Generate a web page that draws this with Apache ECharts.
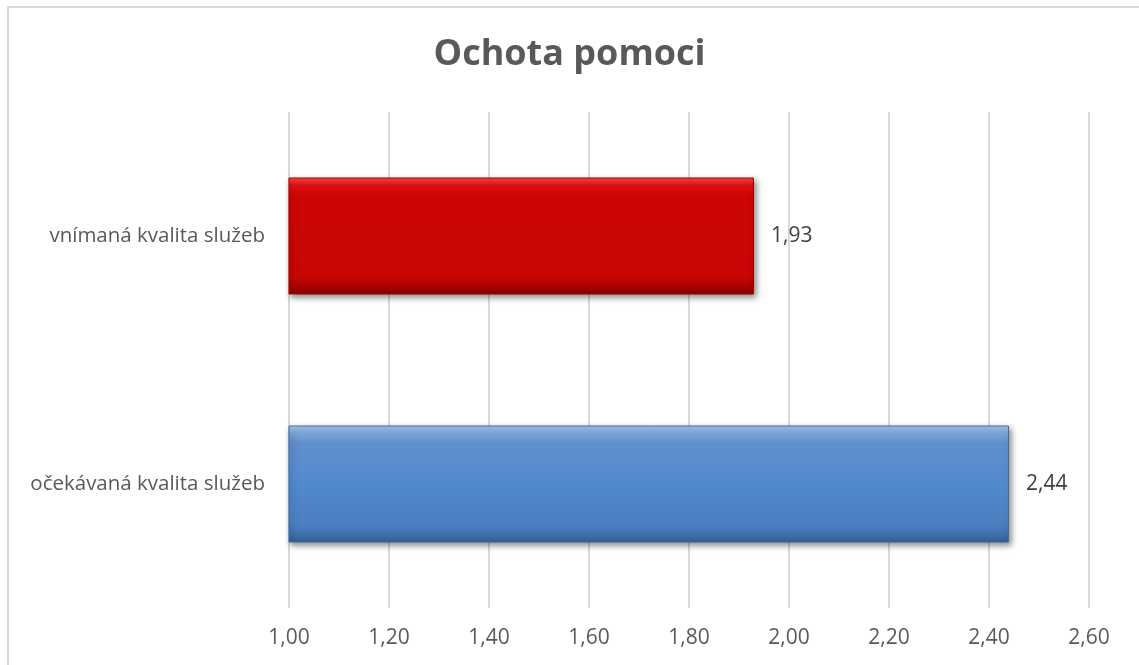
<!DOCTYPE html>
<html>
<head>
<meta charset="utf-8">
<script src="https://cdn.jsdelivr.net/npm/echarts@6/dist/echarts.min.js"></script>
<style>
  html, body { margin: 0; padding: 0; background: #fff; }
  #chart { width: 1139px; height: 665px; }
</style>
</head>
<body>
<div id="chart"></div>
<script>
// data
var categories = ['očekávaná kvalita služeb', 'vnímaná kvalita služeb']
var values = [2.44, 1.93]
var xTicks = [1.0, 1.2, 1.4, 1.6, 1.8, 2.0, 2.2, 2.4, 2.6]

var fmt = function (v) { return Number(v).toFixed(2).replace('.', ',') }

var redFill = new echarts.graphic.LinearGradient(0, 0, 0, 1, [
    { offset: 0, color: '#ff4a4a' },
    { offset: 0.07, color: '#e21010' },
    { offset: 0.15, color: '#cc0605' },
    { offset: 0.85, color: '#c80505' },
    { offset: 0.93, color: '#a80303' },
    { offset: 1, color: '#8a0202' }
])
var blueFill = new echarts.graphic.LinearGradient(0, 0, 0, 1, [
    { offset: 0, color: '#a9cbf2' },
    { offset: 0.07, color: '#7aa6dc' },
    { offset: 0.15, color: '#6090cc' },
    { offset: 0.5, color: '#528acf' },
    { offset: 0.85, color: '#4a7fc0' },
    { offset: 0.93, color: '#3f70ad' },
    { offset: 1, color: '#345e93' }
])
var fills = [blueFill, redFill]
var edges = ['#3d6aa3', '#9a0303']

var myChart = echarts.init(document.getElementById('chart'))
var option = {
    backgroundColor: '#fff',
    textStyle: { fontFamily: 'Open Sans' },
    title: {
        text: 'Ochota pomoci',
        left: 'center',
        top: 32,
        textStyle: {
            color: '#595959',
            fontSize: 36,
            fontWeight: 'bold',
            fontFamily: 'Open Sans'
        }
    },
    graphic: [{
        type: 'rect',
        silent: true,
        shape: { x: 8, y: 7, width: 1200, height: 700 },
        style: { fill: 'none', stroke: '#d9d9d9', lineWidth: 2 }
    }],
    grid: {
        left: 289,
        right: 50,
        top: 112,
        bottom: 57
    },
    xAxis: {
        type: 'value',
        min: xTicks[0],
        max: xTicks[xTicks.length - 1],
        interval: 0.2,
        axisLine: { show: false },
        axisTick: { show: false },
        axisLabel: {
            color: '#595959',
            fontSize: 21,
            margin: 20,
            formatter: fmt
        },
        splitLine: {
            lineStyle: { color: '#d9d9d9', width: 2 }
        }
    },
    yAxis: {
        type: 'category',
        data: categories,
        axisLine: { show: false },
        axisTick: { show: false },
        axisLabel: {
            color: '#595959',
            fontSize: 20.5,
            margin: 24
        }
    },
    series: [{
        type: 'bar',
        barWidth: 117,
        data: values.map(function (v, i) {
            return { value: v, itemStyle: { color: fills[i], borderColor: edges[i] } }
        }),
        itemStyle: {
            borderWidth: 1,
            shadowColor: 'rgba(0,0,0,0.45)',
            shadowBlur: 6,
            shadowOffsetX: 2,
            shadowOffsetY: 3
        },
        label: {
            show: true,
            position: 'right',
            distance: 17,
            color: '#404040',
            fontSize: 21,
            formatter: function (p) { return fmt(p.value) }
        }
    }]
}
myChart.setOption(option)
</script>
</body>
</html>
